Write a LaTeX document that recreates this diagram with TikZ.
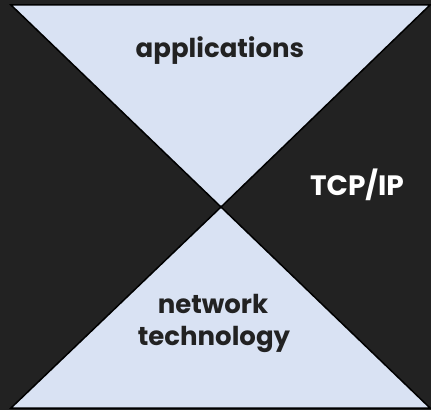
\documentclass[tikz,border=0pt]{standalone}
\usepackage{fontspec}
\setmainfont{Poppins}
\begin{document}
\begin{tikzpicture}[x=1pt,y=1pt,
  tri/.style={fill=lightbg,draw=black,line width=1.5pt,line join=miter},
  lbl/.style={font=\fontsize{26}{30}\selectfont\bfseries,anchor=base,inner sep=0pt}]
\definecolor{darkbg}{HTML}{222222}
\definecolor{lightbg}{HTML}{D9E2F3}
\definecolor{darktext}{HTML}{222222}
\fill[darkbg] (0,0) rectangle (431,410);
\useasboundingbox (0,0) rectangle (431,410);
\coordinate (tl) at (11,405);
\coordinate (tr) at (430,405);
\coordinate (c) at (221,203);
\coordinate (bl) at (11,2);
\coordinate (br) at (430,2);
\draw[tri] (tl) -- (tr) -- (c) -- cycle;
\draw[tri] (bl) -- (br) -- (c) -- cycle;
\node[lbl,text=darktext] (app) at (220,352) {applications};
\node[lbl,text=white,font=\fontsize{28}{32}\selectfont\bfseries] (tcp) at (357,214) {TCP/IP};
\node[lbl,text=darktext] (net) at (213,97) {network};
\node[lbl,text=darktext] (tech) at (214,65) {technology};
\end{tikzpicture}
\end{document}
